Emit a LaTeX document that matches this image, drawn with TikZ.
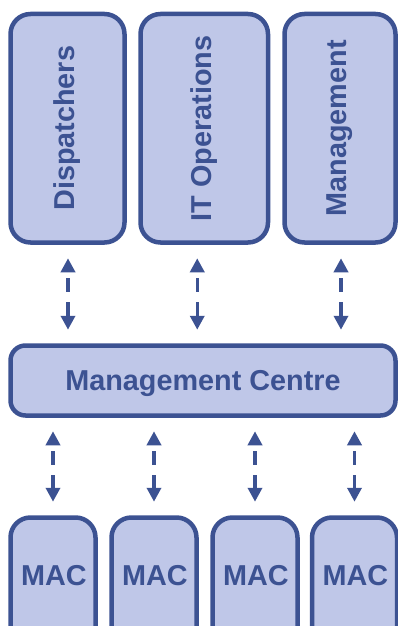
\documentclass[tikz,border=0pt]{standalone}
\usepackage{fontspec}
\setmainfont{Liberation Sans}
\usepackage{graphicx}
\usetikzlibrary{arrows.meta}
\definecolor{edge}{RGB}{60,82,146}
\definecolor{boxfill}{RGB}{191,199,232}
\tikzset{
  box/.style={draw=edge, fill=boxfill, line width=4.5pt, rounded corners=20pt,
    inner sep=0pt, text=edge, font=\fontsize{28.8}{32}\selectfont\bfseries},
  wide/.style={box, rounded corners=15pt, text depth=0pt},
  mac/.style={box, minimum width=85pt, minimum height=160pt},
  lbl/.style={text=edge, font=\fontsize{28.8}{32}\selectfont\bfseries, inner sep=0pt},
  link/.style={draw=edge, line width=3.5pt, {Triangle[width=14pt,length=14pt]}-{Triangle[width=14pt,length=14pt]},
    dash pattern=on 0pt off 7pt on 14pt off 10pt on 40pt, shorten <=13.5pt, shorten >=13.5pt}
}
\begin{document}
\begin{tikzpicture}[x=1pt,y=-1pt]
\useasboundingbox (0,0) rectangle (398,626);
\clip (0,0) rectangle (398,626);
% top boxes
\node[box, minimum width=114pt, minimum height=228.5pt] (dis) at (67.5,128.25) {\rotatebox{90}{Dispatchers}};
\node[box, minimum width=127.5pt, minimum height=228.5pt] (it) at (204.25,128.25) {\rotatebox{90}{IT Operations}};
\node[box, minimum width=111pt, minimum height=228.5pt] (man) at (340,128.25) {\rotatebox{90}{Management}};
% centre
\node[wide, minimum width=385pt, minimum height=70pt] (mc) at (203,380.5) {Management Centre};
% MAC boxes
\node[mac] (m1) at (53,597.5) {};
\node[mac] (m2) at (154,597.5) {};
\node[mac] (m3) at (255,597.5) {};
\node[mac] (m4) at (354.5,597.5) {};
\node[lbl] (t1) at (54,576) {MAC};
\node[lbl] (t2) at (155,576) {MAC};
\node[lbl] (t3) at (256,576) {MAC};
\node[lbl] (t4) at (355.5,576) {MAC};
% links top
\draw[link] ([xshift=0.5pt]dis.south) -- ([xshift=0.5pt]dis.south |- mc.north);
\draw[link] ([xshift=-7pt]it.south) -- ([xshift=-7pt]it.south |- mc.north);
\draw[link] ([xshift=1pt]man.south) -- ([xshift=1pt]man.south |- mc.north);
% links bottom
\draw[link] (m1.north |- mc.south) -- (m1.north);
\draw[link] (m2.north |- mc.south) -- (m2.north);
\draw[link] (m3.north |- mc.south) -- (m3.north);
\draw[link] (m4.north |- mc.south) -- (m4.north);
\end{tikzpicture}
\end{document}
